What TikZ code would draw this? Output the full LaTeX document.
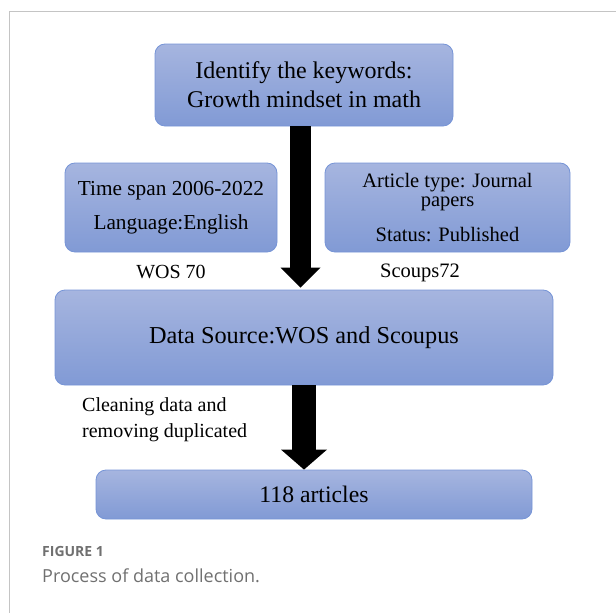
\documentclass[tikz,border=0pt]{standalone}
\usepackage{fontspec}
\setmainfont{Liberation Serif}
\newfontfamily\capfont{Open Sans}
\usetikzlibrary{arrows.meta}
\definecolor{boxtop}{RGB}{166,181,223}
\definecolor{boxbot}{RGB}{129,154,213}
\definecolor{boxedge}{RGB}{118,148,214}
\definecolor{framegray}{RGB}{196,196,196}
\definecolor{capgray}{RGB}{112,112,112}

\begin{document}
\begin{tikzpicture}[x=1pt,y=-1pt,
    procbox/.style={draw=boxedge, line width=0.8pt, rounded corners=10pt,
      top color=boxtop, bottom color=boxbot, align=center, inner sep=0pt},
    bigarrow/.style n args={3}{line width=#1,
      -{Triangle[width=#2,length=#3,line width=0pt]}},
    note/.style={inner sep=0pt, font=\fontsize{20}{26}\selectfont}]
    \useasboundingbox (0,0) rectangle (616,613);

    % Frame
    \draw[framegray, line width=1pt] (9,613) -- (9,11) -- (616,11);

    % Boxes
    \node[procbox, minimum width=298pt, minimum height=82pt,
      font=\fontsize{24}{29}\selectfont] (keyw) at (304,85)
      {Identify the keywords:\\Growth mindset in math};
    \node[procbox, minimum width=212pt, minimum height=89pt,
      font=\fontsize{21.3}{24}\selectfont] (span) at (171,207.5)
      {Time span 2006-2022\\[10pt]Language:English};
    \node[procbox, minimum width=245pt, minimum height=89pt,
      font=\fontsize{20.5}{18.5}\selectfont] (atype) at (447.5,207.5)
      {Article type: Journal\\papers\\[15pt]Status: Published};
    \node[procbox, minimum width=498pt, minimum height=95pt,
      font=\fontsize{24.3}{28}\selectfont] (source) at (304,337.5)
      {Data Source:WOS and Scoupus};
    \node[procbox, minimum width=436pt, minimum height=49pt,
      font=\fontsize{23.7}{28}\selectfont] (total) at (314,494.5)
      {118 articles};

    % Labels
    \node[note] (wos) at (171,272) {WOS 70};
    \node[note, font=\fontsize{20.5}{26}\selectfont] (scoups) at (420,273)
      {Scoups72};
    \node[note, align=left, anchor=west] (clean) at (82,420)
      {Cleaning data and\\removing duplicated};

    % Arrows
    \draw[bigarrow={21pt}{40pt}{20pt}] ([xshift=-3.5pt]keyw.south)
      -- ([xshift=-3.5pt,yshift=2pt]source.north);
    \draw[bigarrow={24pt}{46pt}{20pt}] (source.south)
      -- (source.south |- total.north);

    % Caption
    \node[inner sep=0pt, anchor=west, text=capgray,
      font=\capfont\bfseries\fontsize{14}{16}\selectfont] (fig) at (42,551)
      {FIGURE 1};
    \node[inner sep=0pt, anchor=west, text=capgray,
      font=\capfont\fontsize{18}{20}\selectfont] (cap) at (42,576)
      {Process of data collection.};
\end{tikzpicture}
\end{document}
